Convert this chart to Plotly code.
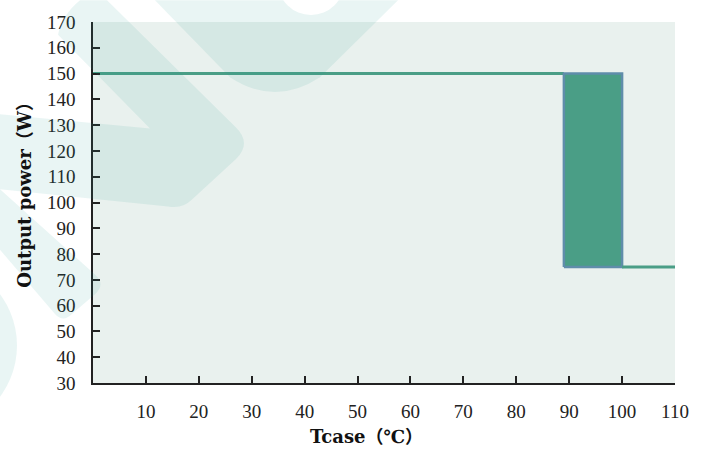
import plotly.graph_objects as go

# ---- data ----
x_tick_vals = [10, 20, 30, 40, 50, 60, 70, 80, 90, 100, 110]
y_tick_vals = [30, 40, 50, 60, 70, 80, 90, 100, 110, 120, 130, 140, 150, 160, 170]

full_temp = [0, 89]
full_power = [150, 150]

band_temp = [89, 89, 100, 100, 89]
band_power = [75, 150, 150, 75, 75]

half_temp = [100, 110]
half_power = [75, 75]

x_title = "Tcase（℃）"
y_title = "Output power（W）"

# ---- layout geometry (pixels of the 707x450 page) ----
W, H = 707, 450
L, R, T, B = 93, 675, 17, 383


def px(x):
    return (x - L) / (R - L)


def py(y):
    return (B - y) / (B - T)


def path(cmds):
    out = []
    for c in cmds:
        if c[0] == "Z":
            out.append("Z")
        elif c[0] == "Q":
            out.append("Q %.4f,%.4f %.4f,%.4f" % (px(c[1]), py(c[2]), px(c[3]), py(c[4])))
        else:
            out.append("%s %.4f,%.4f" % (c[0], px(c[1]), py(c[2])))
    return " ".join(out)


line_green = "#4A9E86"

fig = go.Figure()
fig.add_trace(go.Scatter(x=full_temp, y=full_power, mode="lines",
                         line=dict(color=line_green, width=3), showlegend=False, hoverinfo="skip"))
fig.add_trace(go.Scatter(x=band_temp, y=band_power, mode="lines", fill="toself",
                         fillcolor="#4A9E86", line=dict(color="#5F8DAA", width=2.5),
                         showlegend=False, hoverinfo="skip"))
fig.add_trace(go.Scatter(x=half_temp, y=half_power, mode="lines",
                         line=dict(color=line_green, width=3), showlegend=False, hoverinfo="skip"))

wm = "rgba(42,157,143,0.10)"
shapes = []
# watermark chevron
shapes.append(dict(type="path", xref="paper", yref="paper", layer="above", line=dict(width=0), fillcolor=wm,
                   path=path([("M", 58, 30), ("Q", 62, 10, 80, -5), ("L", 107, -5), ("L", 236, 124),
                              ("Q", 252, 140, 236, 156), ("L", 192, 197), ("Q", 182, 207, 168, 204),
                              ("L", -5, 186), ("L", -5, 110), ("L", 150, 125), ("Z",)])))
# watermark top V
shapes.append(dict(type="path", xref="paper", yref="paper", layer="above", line=dict(width=0), fillcolor=wm,
                   path=path([("M", 155, -5), ("L", 230, 73), ("Q", 275, 103, 320, 73), ("L", 398, -5), ("Z",)])))
# white circle notch
shapes.append(dict(type="circle", xref="paper", yref="paper", layer="above", line=dict(width=0),
                   fillcolor="white", x0=px(278), x1=px(344), y0=py(10), y1=py(-56)))
# small chevron
shapes.append(dict(type="path", xref="paper", yref="paper", layer="above", line=dict(width=0), fillcolor=wm,
                   path=path([("M", -5, 182), ("L", 95, 273), ("Q", 106, 283, 95, 293), ("L", 72, 313),
                              ("Q", 63, 322, 55, 313), ("L", -5, 242), ("Z",)])))
# circle at left
shapes.append(dict(type="circle", xref="paper", yref="paper", layer="above", line=dict(width=0),
                   fillcolor=wm, x0=px(-159), x1=px(17), y0=py(433), y1=py(257)))

tick_font = dict(family="Liberation Serif", size=19, color="#222222")
title_font = dict(family="DejaVu Serif, Noto Sans CJK SC", size=18, color="#111111")

fig.update_layout(
    width=W, height=H, autosize=False,
    margin=dict(l=L, r=W - R, t=T, b=H - B, pad=0),
    paper_bgcolor="white", plot_bgcolor="#E9F1EE",
    showlegend=False,
    shapes=shapes,
    annotations=[
        dict(text="<b>%s</b>" % x_title, xref="paper", yref="paper", x=px(366), y=py(437),
             xanchor="center", yanchor="middle", showarrow=False, font=title_font),
        dict(text="<b>%s</b>" % y_title, xref="paper", yref="paper", x=px(25), y=py(188),
             xanchor="center", yanchor="middle", showarrow=False, textangle=-90, font=title_font),
    ],
    xaxis=dict(range=[0, 110], tickvals=x_tick_vals, ticks="inside", ticklen=7, tickwidth=1.5,
               tickcolor="#222222", showline=True, linecolor="#222222", linewidth=1.5,
               showgrid=False, zeroline=False, tickfont=tick_font, ticklabelstandoff=10),
    yaxis=dict(range=[30, 170], tickvals=y_tick_vals, ticks="inside", ticklen=7, tickwidth=1.5,
               tickcolor="#222222", showline=True, linecolor="#222222", linewidth=1.5,
               showgrid=False, zeroline=False, tickfont=tick_font, ticklabelstandoff=12),
)

fig.write_html(
    "out.html",
    config={"displayModeBar": False},
    post_script="document.documentElement.style.margin='0';document.body.style.margin='0';"
                "document.body.style.padding='0';document.body.style.overflow='hidden';",
)
